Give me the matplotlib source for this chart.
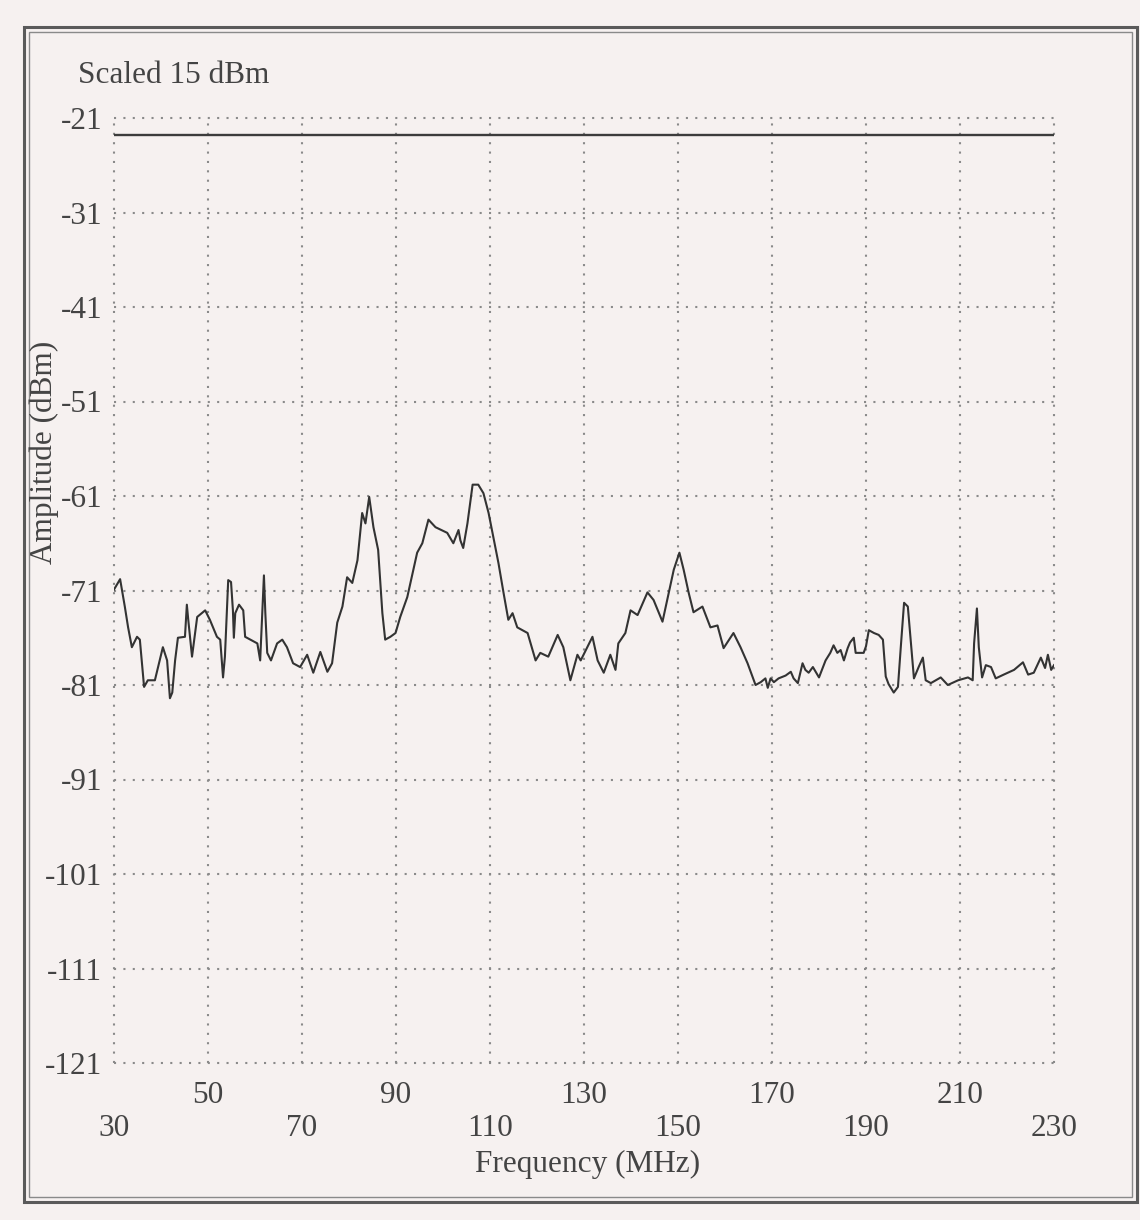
import matplotlib

matplotlib.use("Agg")

import matplotlib.pyplot as plt
from matplotlib.patches import Rectangle

# trace: frequency (MHz) and amplitude (dBm)
freq = [
    30.0, 31.3, 32.3, 33.0, 33.8, 34.9, 35.5, 36.4, 37.2, 38.7, 40.4, 41.3,
    41.9, 42.4, 43.0, 43.6, 45.1, 45.5, 45.8, 46.6, 47.7, 49.4, 50.4, 51.9,
    52.6, 53.2, 53.6, 54.3, 54.9, 55.3, 55.5, 55.8, 56.6, 57.5, 57.9, 59.0,
    60.5, 61.1, 61.5, 61.9, 62.2, 62.6, 63.4, 64.7, 65.8, 66.8, 68.1, 69.6,
    71.1, 72.4, 73.9, 75.4, 76.4, 77.5, 78.6, 79.6, 80.7, 81.8, 82.8, 83.5,
    84.3, 85.2, 86.2, 87.1, 87.7, 88.8, 89.9, 90.9, 92.4, 94.5, 95.6, 96.9,
    98.4, 100.9, 102.2, 103.3, 103.7, 104.3, 105.2, 106.3, 107.5, 108.6,
    109.7, 110.7, 111.8, 112.9, 113.9, 114.8, 115.8, 118.0, 119.7, 120.7,
    122.4, 124.4, 125.6, 127.1, 128.6, 129.3, 131.8, 132.9, 134.2, 135.6,
    136.7, 137.3, 138.8, 139.9, 141.4, 143.5, 144.8, 146.7, 148.0, 149.1,
    150.3, 151.2, 152.3, 153.3, 155.2, 156.9, 158.4, 159.7, 161.8, 163.3,
    164.8, 166.5, 167.6, 168.6, 169.1, 169.7, 170.4, 171.4, 172.9, 174.0,
    174.6, 175.5, 176.5, 177.1, 177.8, 178.7, 179.3, 180.0, 181.4, 182.4,
    183.1, 183.9, 184.6, 185.3, 186.1, 186.6, 187.4, 187.8, 188.9, 189.5,
    190.0, 190.6, 191.7, 192.7, 193.6, 194.2, 194.8, 195.9, 196.8, 197.4,
    198.1, 198.9, 199.5, 200.2, 201.2, 202.1, 202.7, 203.8, 205.9, 207.4,
    209.6, 211.7, 212.7, 213.0, 213.6, 214.0, 214.7, 215.5, 216.6, 217.6,
    219.3, 221.5, 223.4, 224.5, 225.7, 227.2, 228.1, 228.7, 229.4, 230.0,
]
amplitude = [
    -70.9, -69.8, -72.7, -74.9, -77.0, -75.9, -76.2, -81.2, -80.5, -80.5,
    -77.0, -78.4, -82.4, -81.8, -78.4, -76.0, -75.9, -72.5, -74.1, -78.0,
    -73.8, -73.1, -74.1, -75.9, -76.2, -80.2, -78.0, -69.9, -70.1, -73.1,
    -76.0, -73.4, -72.5, -73.1, -75.9, -76.2, -76.6, -78.4, -73.8, -69.4,
    -73.4, -77.6, -78.4, -76.6, -76.2, -77.0, -78.7, -79.1, -77.8, -79.7,
    -77.5, -79.6, -78.7, -74.4, -72.7, -69.6, -70.2, -67.8, -62.8, -63.9,
    -61.1, -64.3, -66.7, -73.4, -76.2, -75.9, -75.5, -73.8, -71.7, -67.0,
    -66.0, -63.5, -64.3, -64.9, -66.0, -64.6, -65.7, -66.5, -63.9, -59.8,
    -59.8, -60.7, -62.8, -65.3, -68.1, -71.3, -74.1, -73.4, -74.9, -75.5,
    -78.4, -77.6, -78.0, -75.7, -77.0, -80.5, -77.8, -78.4, -75.9, -78.4,
    -79.7, -77.8, -79.4, -76.6, -75.5, -73.1, -73.6, -71.2, -72.0, -74.3,
    -71.3, -68.8, -67.0, -68.8, -71.3, -73.3, -72.7, -74.9, -74.7, -77.1,
    -75.5, -77.0, -78.7, -81.0, -80.7, -80.3, -81.3, -80.3, -80.7, -80.3,
    -80.0, -79.6, -80.3, -80.8, -78.7, -79.4, -79.7, -79.1, -79.6, -80.2,
    -78.4, -77.6, -76.8, -77.6, -77.3, -78.4, -77.1, -76.5, -76.0, -77.6,
    -77.6, -77.6, -76.9, -75.2, -75.5, -75.7, -76.2, -80.1, -80.9, -81.8,
    -81.2, -77.0, -72.3, -72.7, -76.2, -80.3, -79.1, -78.1, -80.5, -80.8,
    -80.2, -81.0, -80.5, -80.2, -80.5, -76.6, -72.9, -77.0, -80.2, -78.9,
    -79.1, -80.3, -79.9, -79.4, -78.6, -79.9, -79.7, -78.1, -79.2, -77.8,
    -79.4, -78.9,
]
ref_level = -22.8

x_low = [30, 70, 110, 150, 190, 230]
x_high = [50, 90, 130, 170, 210]
y_ticks = [-21, -31, -41, -51, -61, -71, -81, -91, -101, -111, -121]

W, H = 1140, 1220
bg = "#f6f1f0"
ink = "#444444"
fs = 22.5
plt.rcParams["font.family"] = ["Liberation Serif", "DejaVu Serif"]

fig = plt.figure(figsize=(W / 100, H / 100), dpi=100, facecolor=bg)
ax = fig.add_axes([114 / W, 1 - 1063 / H, (1054 - 114) / W, (1063 - 118) / H])
ax.set_facecolor("none")
for s in ax.spines.values():
    s.set_visible(False)

ax.set_xlim(30, 230)
ax.set_ylim(-121, -21)

dots = dict(color="#8a8a8a", lw=1.5, linestyle=(0, (1, 3.5)), clip_on=False, zorder=1)
for v in x_low + x_high:
    ax.axvline(v, **dots)
for v in y_ticks:
    ax.axhline(v, **dots)

ax.axhline(ref_level, color="#3c3c3c", lw=1.7, zorder=2)
ax.plot(freq, amplitude, color="#333333", lw=1.5, zorder=3)

ax.set_xticks(x_low)
ax.set_xticklabels([str(v) for v in x_low])
ax.set_xticks(x_high, minor=True)
ax.set_xticklabels([str(v) for v in x_high], minor=True)
ax.set_yticks(y_ticks)
ax.set_yticklabels([str(v) for v in y_ticks])
ax.tick_params(axis="x", which="major", length=0, pad=37, labelsize=fs, labelcolor=ink)
ax.tick_params(axis="x", which="minor", length=0, pad=13, labelsize=fs, labelcolor=ink)
ax.tick_params(axis="y", length=0, pad=8.5, labelsize=fs, labelcolor=ink)

fig.text(78 / W, 1 - 83 / H, "Scaled 15 dBm", fontsize=fs, color=ink, va="baseline")
fig.text(44 / W, 1 - 452 / H, "Amplitude (dBm)", fontsize=fs, color=ink,
         rotation=90, ha="center", va="center")
fig.text(588 / W, 1 - 1164 / H, "Frequency (MHz)", fontsize=fs, color=ink,
         ha="center", va="center")

# double frame round the plot
fig.patches.append(Rectangle((24 / W, 1 - 1202 / H), (1137 - 24) / W, (1202 - 27) / H,
                             transform=fig.transFigure, fill=False, ec="#5a5a5a", lw=2.2))
fig.patches.append(Rectangle((29 / W, 1 - 1197 / H), (1132 - 29) / W, (1197 - 32) / H,
                             transform=fig.transFigure, fill=False, ec="#8a8a8a", lw=1.0))

fig.savefig("out.png", dpi=100, facecolor=bg)
